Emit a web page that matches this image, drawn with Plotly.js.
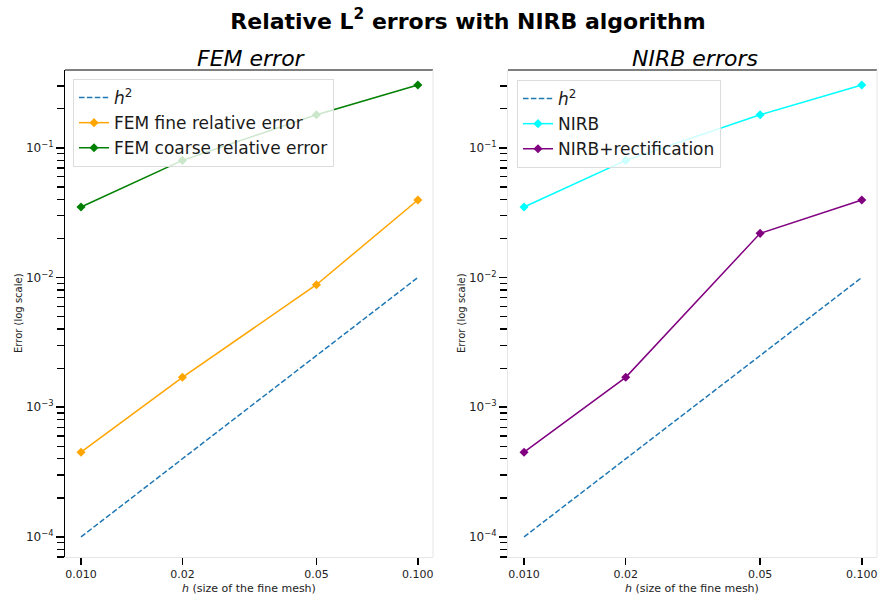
<!DOCTYPE html>
<html>
<head>
<meta charset="utf-8">
<script src="https://cdn.plot.ly/plotly-3.0.1.min.js"></script>
<style>html,body{margin:0;padding:0;background:#fff;}#chart{width:879px;height:596px;}</style>
</head>
<body>
<div id="chart"></div>
<script>
// ---- data ----
const h = [0.01, 0.02, 0.05, 0.1];
const hSquared = [0.0001, 0.0004, 0.0025, 0.01];
const femFine = [0.00045, 0.0017, 0.0088, 0.0396];
const femCoarse = [0.035, 0.08, 0.18, 0.305];
const nirb = [0.035, 0.08, 0.18, 0.305];
const nirbRect = [0.00045, 0.0017, 0.0219, 0.0396];
const xTickVals = [0.01, 0.02, 0.05, 0.1];
const xTickText = ['0.010', '0.02', '0.05', '0.100'];
const yTickVals = [1e-4, 1e-3, 1e-2, 1e-1];
const yTickText = ['10<sup>\u22124</sup>', '10<sup>\u22123</sup>', '10<sup>\u22122</sup>', '10<sup>\u22121</sup>'];

const FONT = 'DejaVu Sans, Liberation Sans, sans-serif';
const W = 879, H = 596;

// minor tick positions (2..9 per decade)
const yMinor = [];
for (let e = -5; e <= 0; e++) for (let m = 2; m <= 9; m++) yMinor.push(m * Math.pow(10, e));

function line(x, y, name, color, legend, xa, ya, dashed) {
  const t = {x: x, y: y, name: name, type: 'scatter', xaxis: xa, yaxis: ya, legend: legend,
    line: {color: color, width: 1.5}};
  if (dashed) { t.mode = 'lines'; t.line.dash = '5.5px,2.4px'; }
  else { t.mode = 'lines+markers'; t.marker = {symbol: 'diamond', size: 7, color: color}; }
  return t;
}

const data = [
  line(h, hSquared, '<i>h</i><sup>2</sup>', '#1f77b4', 'legend', 'x', 'y', true),
  line(h, femFine, 'FEM fine relative error', '#FFA500', 'legend', 'x', 'y', false),
  line(h, femCoarse, 'FEM coarse relative error', '#008000', 'legend', 'x', 'y', false),
  line(h, hSquared, '<i>h</i><sup>2</sup>', '#1f77b4', 'legend2', 'x2', 'y2', true),
  line(h, nirb, 'NIRB', '#00FFFF', 'legend2', 'x2', 'y2', false),
  line(h, nirbRect, 'NIRB+rectification', '#800080', 'legend2', 'x2', 'y2', false)
];

const xRange = [-2.0475, -0.955];
const yRange = [-4.155, -0.4];
const GRAY = '#e6e6e6';

function xax(domain, anchor) {
  return {type: 'log', domain: domain, anchor: anchor, range: xRange,
    tickmode: 'array', tickvals: xTickVals, ticktext: xTickText,
    ticks: 'outside', ticklen: 7, tickwidth: 1.5, tickcolor: '#000',
    showgrid: false, zeroline: false, showline: true, linecolor: GRAY, linewidth: 1,
    tickfont: {family: FONT, size: 11, color: '#222'}};
}
function yax(domain, anchor, lc) {
  return {type: 'log', domain: domain, anchor: anchor, range: yRange,
    tickmode: 'array', tickvals: yTickVals, ticktext: yTickText,
    ticks: 'outside', ticklen: 8, tickwidth: 1.5, tickcolor: '#000',
    minor: {tickmode: 'array', tickvals: yMinor, ticks: 'outside', ticklen: 7, tickwidth: 1.3, tickcolor: '#000', showgrid: false},
    showgrid: false, zeroline: false, showline: true, linecolor: lc, linewidth: 1,
    tickfont: {family: FONT, size: 12, color: '#222'}};
}

const dom1 = [65 / W, 433 / W], dom2 = [508 / W, 877 / W];
const ydom = [1 - 557 / H, 1 - 70 / H];

function legendAt(px, py) {
  return {x: px / W, y: 1 - py / H, xanchor: 'left', yanchor: 'top',
    bgcolor: 'rgba(255,255,255,0.8)', bordercolor: '#dcdcdc', borderwidth: 1,
    font: {family: FONT, size: 17, color: '#1a1a1a'}, traceorder: 'normal'};
}

function ann(text, px, py, size, extra) {
  return Object.assign({text: text, xref: 'paper', yref: 'paper', x: px / W, y: 1 - py / H,
    xanchor: 'center', yanchor: 'middle', showarrow: false,
    font: {family: FONT, size: size, color: '#000'}}, extra || {});
}

function spine(xref, yref, x0, y0, x1, y1, color) {
  return {type: 'line', xref: xref, yref: yref, x0: x0, y0: y0, x1: x1, y1: y1,
    line: {color: color, width: 1}, layer: 'above'};
}

const layout = {
  width: W, height: H,
  margin: {l: 0, r: 0, t: 0, b: 0},
  paper_bgcolor: '#fff', plot_bgcolor: '#fff',
  title: {text: '<b>Relative L<sup>2</sup> errors with NIRB algorithm</b>', x: 468 / W, xanchor: 'center',
    y: 1 - 21 / H, yanchor: 'middle', font: {family: FONT, size: 22, color: '#000'}},
  xaxis: xax(dom1, 'y'),
  yaxis: yax(ydom, 'x', '#000'),
  xaxis2: xax(dom2, 'y2'),
  yaxis2: yax(ydom, 'x2', GRAY),
  legend: legendAt(73, 79),
  legend2: legendAt(517, 80),
  showlegend: true,
  annotations: [
    ann('<i>FEM error</i>', 251, 58, 22),
    ann('<i>NIRB errors</i>', 695, 58, 22),
    ann('Error (log scale)', 18, 313, 10, {textangle: -90, font: {family: FONT, size: 10, color: '#222'}}),
    ann('Error (log scale)', 461, 313, 10, {textangle: -90, font: {family: FONT, size: 10, color: '#222'}}),
    ann('<i>h</i> (size of the fine mesh)', 249, 588, 11, {font: {family: FONT, size: 11, color: '#222'}}),
    ann('<i>h</i> (size of the fine mesh)', 692, 588, 11, {font: {family: FONT, size: 11, color: '#222'}})
  ],
  shapes: [
    spine('x domain', 'y domain', 0, 1, 1, 1, '#000'),
    spine('x domain', 'y domain', 1, 0, 1, 1, GRAY),
    spine('x2 domain', 'y2 domain', 0, 1, 1, 1, '#000'),
    spine('x2 domain', 'y2 domain', 1, 0, 1, 1, GRAY)
  ]
};

Plotly.newPlot('chart', data, layout, {displayModeBar: false, staticPlot: true});
</script>
</body>
</html>
